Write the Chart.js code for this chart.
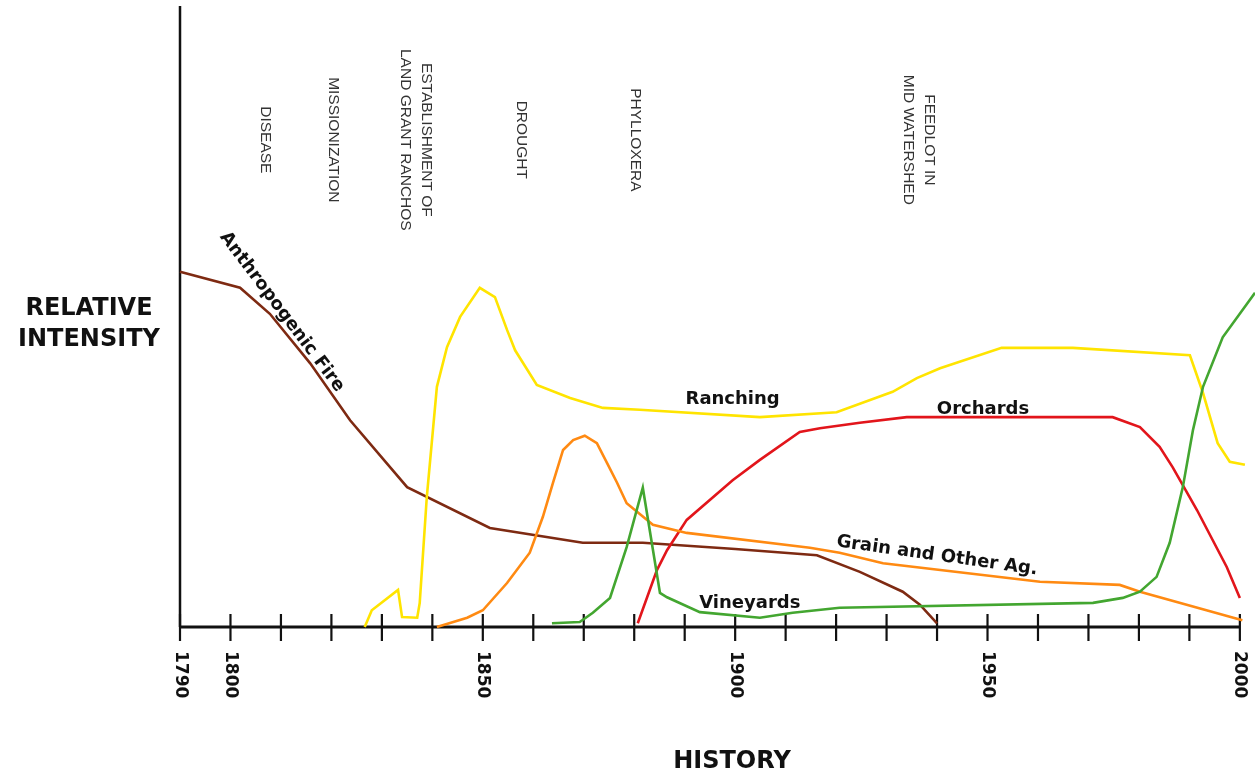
<!DOCTYPE html>
<html>
<head>
<meta charset="utf-8">
<script src="https://cdn.jsdelivr.net/npm/chart.js@4/dist/chart.umd.min.js"></script>
<style>
  html, body { margin: 0; padding: 0; background: #fff; }
  #wrap { width: 1255px; height: 774px; position: relative; }
</style>
</head>
<body>
<div id="wrap"><canvas id="chart"></canvas></div>
<script>
// years on x, relative intensity (0-100) on y
const fireYears   = [1790, 1801.9, 1807.8, 1815.8, 1823.7, 1835, 1851.4, 1869.8, 1881.7, 1900, 1916.2, 1924.7, 1933.2, 1936.6, 1940];
const fireValues  = [57.4, 54.8, 50.6, 42.6, 33.4, 22.6, 16.0, 13.6, 13.6, 12.6, 11.6, 8.9, 5.7, 3.6, 0.6];

const ranchYears  = [1826.6, 1828.0, 1833.2, 1834.0, 1837.0, 1837.5, 1838.9, 1840.9, 1842.9, 1845.5, 1849.4, 1852.4, 1854.8, 1856.4, 1860.7, 1867.3, 1873.8, 1881.1, 1904.9, 1920.1, 1931.2, 1936.0, 1940.6, 1952.8, 1966.9, 1990.1, 1992.7, 1995.6, 1998.0, 2001.0];
const ranchValues = [0, 2.7, 6.0, 1.6, 1.5, 3.9, 21.0, 38.8, 45.2, 50.1, 54.8, 53.3, 48.0, 44.7, 39.1, 37.0, 35.4, 35.1, 33.9, 34.7, 38.0, 40.2, 41.8, 45.1, 45.1, 43.9, 37.8, 29.7, 26.7, 26.2];

const grainYears  = [1840.9, 1846.9, 1850.0, 1854.8, 1859.3, 1861.9, 1863.9, 1865.9, 1867.9, 1870.2, 1872.6, 1874.6, 1876.6, 1878.5, 1883.7, 1890.4, 1914.8, 1920.7, 1929.3, 1960.4, 1976.2, 1980.2, 2000.5];
const grainValues = [0, 1.5, 2.7, 7.1, 12.0, 17.8, 23.3, 28.6, 30.2, 30.9, 29.7, 26.5, 23.3, 20.0, 16.5, 15.2, 12.8, 12.0, 10.3, 7.3, 6.8, 5.7, 1.1];

const vineYears   = [1863.7, 1869.2, 1871.8, 1875.2, 1878.5, 1881.7, 1885.1, 1886.5, 1893.0, 1904.9, 1911.4, 1920.7, 1970.9, 1976.8, 1980.2, 1983.5, 1986.1, 1988.7, 1990.7, 1992.7, 1996.6, 2003.0];
const vineValues  = [0.6, 0.8, 2.3, 4.7, 12.9, 22.5, 5.5, 4.8, 2.4, 1.5, 2.3, 3.1, 3.9, 4.7, 5.7, 8.1, 13.6, 22.6, 31.8, 38.8, 46.8, 54.0];

const orchYears   = [1880.7, 1884.5, 1886.5, 1890.4, 1899.5, 1904.9, 1912.8, 1916.8, 1924.7, 1934.0, 1974.8, 1980.2, 1984.1, 1986.7, 1991.5, 1997.4, 2000];
const orchValues  = [0.6, 9.2, 12.4, 17.3, 23.7, 27.0, 31.5, 32.1, 33.0, 33.9, 33.9, 32.3, 29.1, 25.8, 18.9, 9.7, 4.7];

const tickYears   = [1790, 1800, 1810, 1820, 1830, 1840, 1850, 1860, 1870, 1880, 1890, 1900, 1910, 1920, 1930, 1940, 1950, 1960, 1970, 1980, 1990, 2000];
const tickLabels  = ['1790', '1800', '1850', '1900', '1950', '2000'];

const events = [
  { lines: ['DISEASE'], year: 1806.8 },
  { lines: ['MISSIONIZATION'], year: 1820.3 },
  { lines: ['ESTABLISHMENT OF', 'LAND GRANT RANCHOS'], year: 1836.8 },
  { lines: ['DROUGHT'], year: 1857.7 },
  { lines: ['PHYLLOXERA'], year: 1880.3 },
  { lines: ['FEEDLOT IN', 'MID WATERSHED'], year: 1936.4 }
];

const seriesLabels = [
  { text: 'Anthropogenic Fire', year: 1810.2, value: 50.9, angle: 53 },
  { text: 'Ranching', year: 1899.5, value: 36.8, angle: 0 },
  { text: 'Orchards', year: 1949.1, value: 35.2, angle: 0 },
  { text: 'Grain and Other Ag.', year: 1940.0, value: 11.5, angle: 8 },
  { text: 'Vineyards', year: 1902.9, value: 3.9, angle: 0 }
];

const zip = (xs, ys) => xs.map((x, i) => ({ x: x, y: ys[i] }));

function lineSet(label, xs, ys, color) {
  return { label: label, data: zip(xs, ys), borderColor: color, backgroundColor: color, borderWidth: 2.6, pointRadius: 0, tension: 0, clip: 12 };
}

const axisPlugin = {
  id: 'historyAxes',
  beforeDatasetsDraw(chart) {
    const ctx = chart.ctx, xs = chart.scales.x, ys = chart.scales.y;
    const base = ys.getPixelForValue(0);
    ctx.save();
    ctx.strokeStyle = '#111';
    ctx.lineWidth = 2.5;
    ctx.beginPath();
    ctx.moveTo(xs.getPixelForValue(1790), chart.chartArea.top - 2);
    ctx.lineTo(xs.getPixelForValue(1790), base);
    ctx.stroke();
    ctx.lineWidth = 3;
    ctx.beginPath();
    ctx.moveTo(xs.getPixelForValue(1790), base);
    ctx.lineTo(xs.getPixelForValue(2000), base);
    ctx.stroke();
    ctx.lineWidth = 2.2;
    tickYears.forEach(y => {
      const px = xs.getPixelForValue(y);
      ctx.beginPath();
      ctx.moveTo(px, base - 13);
      ctx.lineTo(px, base + 14);
      ctx.stroke();
    });
    ctx.restore();
  },
  afterDatasetsDraw(chart) {
    const ctx = chart.ctx, xs = chart.scales.x, ys = chart.scales.y;
    const base = ys.getPixelForValue(0);
    ctx.save();
    ctx.fillStyle = '#111';

    // year labels, rotated
    ctx.font = 'bold 17px "DejaVu Sans"';
    ctx.textAlign = 'left';
    ctx.textBaseline = 'middle';
    tickLabels.forEach(t => {
      ctx.save();
      ctx.translate(xs.getPixelForValue(Number(t)), base + 24);
      ctx.rotate(Math.PI / 2);
      ctx.fillText(t, 0, 0);
      ctx.restore();
    });

    // event labels
    ctx.fillStyle = '#333';
    ctx.font = '15.5px "Liberation Sans"';
    ctx.textAlign = 'center';
    events.forEach(ev => {
      ctx.save();
      ctx.translate(xs.getPixelForValue(ev.year), ys.getPixelForValue(78.7));
      ctx.rotate(Math.PI / 2);
      const lh = 21;
      ev.lines.forEach((ln, i) => {
        ctx.fillText(ln, 0, (i - (ev.lines.length - 1) / 2) * lh);
      });
      ctx.restore();
    });

    // series labels
    ctx.fillStyle = '#111';
    ctx.font = 'bold 18px "DejaVu Sans"';
    seriesLabels.forEach(s => {
      ctx.save();
      ctx.translate(xs.getPixelForValue(s.year), ys.getPixelForValue(s.value));
      ctx.rotate(s.angle * Math.PI / 180);
      ctx.fillText(s.text, 0, 0);
      ctx.restore();
    });

    // axis titles
    ctx.font = 'bold 24px "DejaVu Sans"';
    ctx.fillText('RELATIVE', 89, 309);
    ctx.fillText('INTENSITY', 89, 340);
    ctx.fillText('HISTORY', 732, 762);
    ctx.restore();
  }
};

new Chart(document.getElementById('chart'), {
  type: 'line',
  data: {
    datasets: [
      lineSet('Vineyards', vineYears, vineValues, '#43a630'),
      lineSet('Grain and Other Ag.', grainYears, grainValues, '#ff8a12'),
      lineSet('Ranching', ranchYears, ranchValues, '#ffe400'),
      lineSet('Orchards', orchYears, orchValues, '#e2151b'),
      lineSet('Anthropogenic Fire', fireYears, fireValues, '#7e2a12')
    ]
  },
  options: {
    responsive: true,
    maintainAspectRatio: false,
    animation: false,
    layout: { padding: { left: 180, top: 8, right: 0, bottom: 147 } },
    plugins: { legend: { display: false }, tooltip: { enabled: false } },
    scales: {
      x: { type: 'linear', min: 1790, max: 2003, display: false },
      y: { min: 0, max: 100, display: false }
    }
  },
  plugins: [axisPlugin]
});
</script>
</body>
</html>
